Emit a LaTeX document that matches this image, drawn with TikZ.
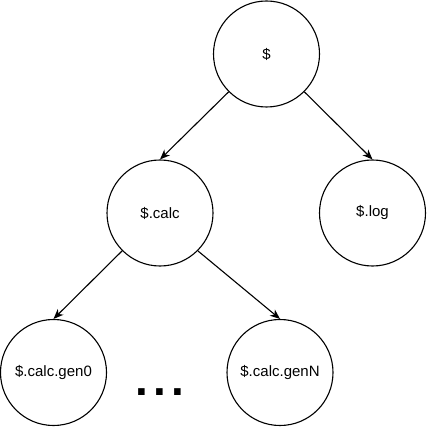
\documentclass[tikz,border=0pt]{standalone}
\usepackage{fontspec}
\setmainfont{Liberation Sans}
\usetikzlibrary{arrows.meta}
\begin{document}
\begin{tikzpicture}[x=1pt,y=-1pt,
  tnode/.style={circle,draw,line width=1.1pt,minimum size=106pt,inner sep=0pt,
    font=\fontsize{15}{18}\selectfont},
  edge/.style={line width=1.1pt,-{Stealth[length=10pt,width=8pt,inset=3pt]}}]
\useasboundingbox (0,0) rectangle (427,427);
\node[tnode] (root) at (266.5,54) {\$};
\node[tnode] (calc) at (160,213) {\$.calc};
\node[tnode] (log) at (372.5,213) {\$.log};
\node[tnode] (gen0) at (53.5,372.5) {\$.calc.gen0};
\node[tnode] (genN) at (280,372.5) {\$.calc.genN};
\node[anchor=base,inner sep=0pt,font=\fontsize{46}{50}\selectfont\bfseries] (dots) at (160,395) {.\kern5pt.\kern5pt.};
\draw[edge] (root.south west) -- (calc.north);
\draw[edge] (root.south east) -- (log.north);
\draw[edge] (calc.south west) -- (gen0.north);
\draw[edge] (calc.south east) -- (genN.north);
\end{tikzpicture}
\end{document}
